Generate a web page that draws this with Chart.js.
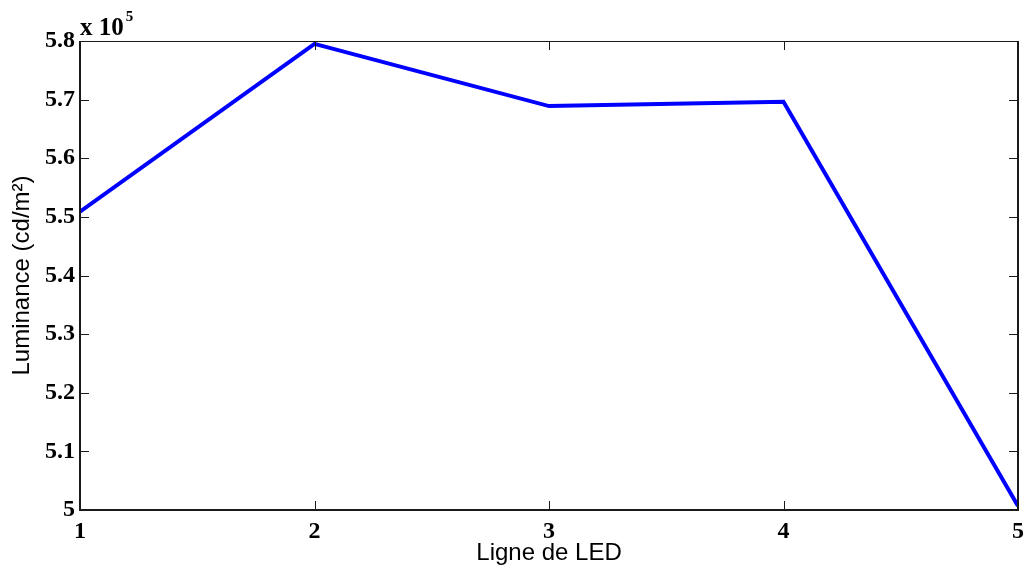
<!DOCTYPE html>
<html>
<head>
<meta charset="utf-8">
<script src="https://cdn.jsdelivr.net/npm/chart.js@4"></script>
<style>
  html, body { margin: 0; padding: 0; background: #fff; }
  #wrap { width: 1025px; height: 570px; }
</style>
</head>
<body>
<div id="wrap"><canvas id="chart_luminance"></canvas></div>
<script>
// LED rows and measured luminance (cd/m²)
const ledRows = [1, 2, 3, 4, 5];
const luminance = [550900, 579500, 568900, 569650, 500700];
const yTicks = [500000, 510000, 520000, 530000, 540000, 550000, 560000, 570000, 580000];

const tickFont = { family: 'Liberation Serif', weight: 'bold', size: 24 };

// matlab-like box with inward ticks + the "x 10^5" exponent
const matlabBox = {
  id: 'matlabBox',
  afterDraw(chart) {
    const ctx = chart.ctx;
    const a = chart.chartArea;
    const xs = chart.scales.x;
    const ys = chart.scales.y;
    ctx.save();
    ctx.strokeStyle = '#1a1a1a';
    ctx.lineWidth = 1;
    ctx.beginPath();
    ctx.moveTo(a.left, a.top + 0.5);
    ctx.lineTo(a.right, a.top + 0.5);
    ctx.stroke();
    ctx.lineWidth = 2;
    ctx.beginPath();
    ctx.moveTo(a.left, a.top);
    ctx.lineTo(a.left, a.bottom);
    ctx.lineTo(a.right, a.bottom);
    ctx.lineTo(a.right, a.top);
    ctx.stroke();

    ctx.lineWidth = 1;
    ctx.beginPath();
    yTicks.forEach(v => {
      const py = Math.round(ys.getPixelForValue(v)) + 0.5;
      ctx.moveTo(a.left, py); ctx.lineTo(a.left + 9, py);
      ctx.moveTo(a.right, py); ctx.lineTo(a.right - 9, py);
    });
    ledRows.forEach(v => {
      const px = Math.round(xs.getPixelForValue(v)) + 0.5;
      ctx.moveTo(px, a.bottom); ctx.lineTo(px, a.bottom - 9);
      ctx.moveTo(px, a.top); ctx.lineTo(px, a.top + 9);
    });
    ctx.stroke();

    ctx.fillStyle = '#000';
    ctx.textBaseline = 'alphabetic';
    ctx.font = 'bold 25px "Liberation Serif"';
    ctx.fillText('x 10', 80, 35);
    const w = ctx.measureText('x 10').width;
    ctx.font = 'bold 15px "Liberation Serif"';
    ctx.fillText('5', 80 + w + 2, 21);
    ctx.restore();
  }
};

new Chart(document.getElementById('chart_luminance'), {
  type: 'line',
  data: {
    datasets: [{
      data: ledRows.map((r, i) => ({ x: r, y: luminance[i] })),
      borderColor: 'rgb(0,0,255)',
      borderWidth: 4,
      pointRadius: 0,
      tension: 0
    }]
  },
  options: {
    responsive: true,
    maintainAspectRatio: false,
    animation: false,
    devicePixelRatio: 1,
    layout: { padding: { top: 41, right: 7, left: 0, bottom: 0 } },
    plugins: { legend: { display: false }, tooltip: { enabled: false } },
    scales: {
      x: {
        type: 'linear',
        min: 1, max: 5,
        grid: { display: false, drawTicks: false },
        border: { display: false },
        afterFit: s => { s.height = 60; s.paddingRight = 0; s.paddingLeft = 0; },
        ticks: { stepSize: 1, color: '#000', font: tickFont, padding: 7, maxRotation: 0 },
        title: {
          display: true, text: 'Ligne de LED', color: '#000',
          font: { family: 'Liberation Sans', size: 24 },
          padding: { top: 0, bottom: 2 }
        }
      },
      y: {
        min: 500000, max: 580000,
        grid: { display: false, drawTicks: false },
        border: { display: false },
        afterFit: s => { s.width = 80; },
        afterBuildTicks: s => { s.ticks = yTicks.map(v => ({ value: v })); },
        ticks: {
          color: '#000', font: tickFont, padding: 5,
          callback: v => String(+(v / 100000).toFixed(1))
        },
        title: {
          display: true, text: 'Luminance (cd/m²)', color: '#000',
          font: { family: 'Liberation Sans', size: 24 },
          padding: { top: 8, bottom: 0 }
        }
      }
    }
  },
  plugins: [matlabBox]
});
</script>
</body>
</html>
